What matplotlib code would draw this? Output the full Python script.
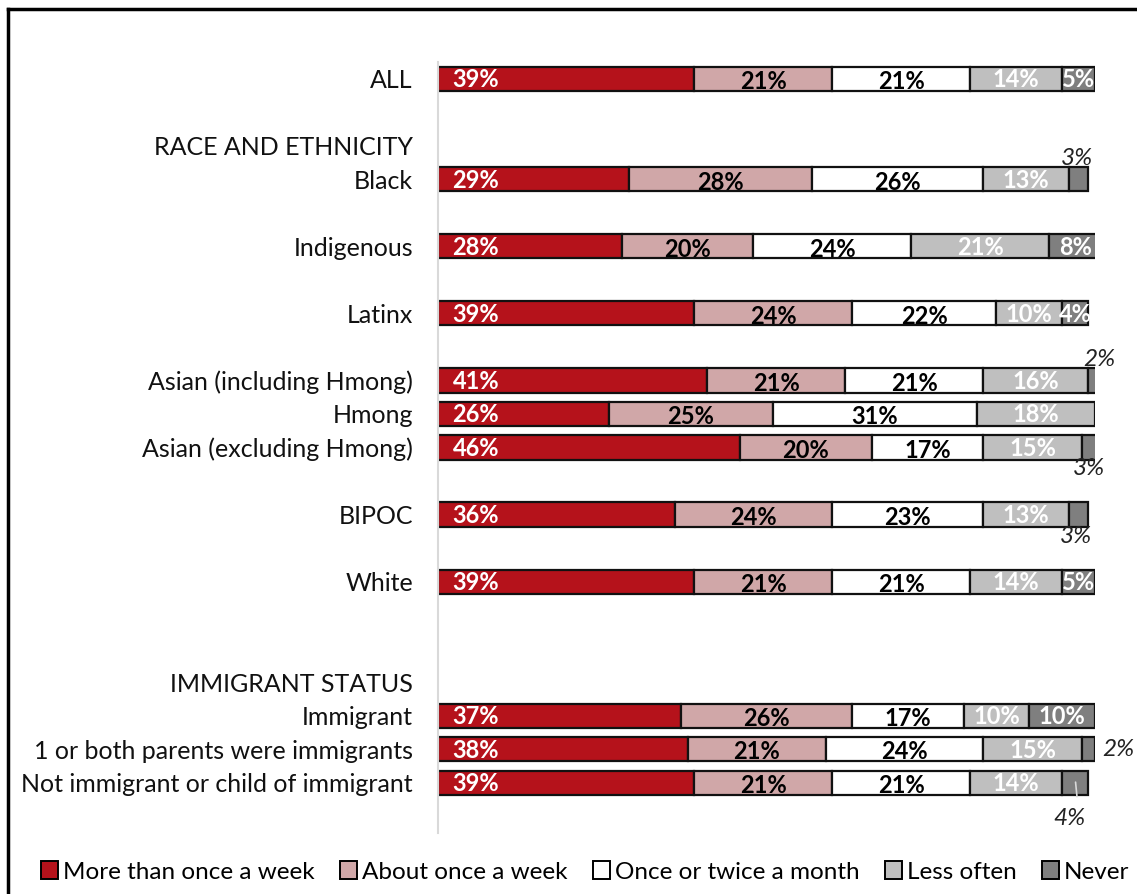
import matplotlib
matplotlib.use('Agg')
import matplotlib.pyplot as plt
from matplotlib.lines import Line2D
from matplotlib.patches import Patch

plt.rcParams['font.family'] = ['Lato', 'DejaVu Sans']

# rows top to bottom, '' = spacer row, headers have no bar
rows = ['ALL', '', 'RACE AND ETHNICITY', 'Black', '', 'Indigenous', '', 'Latinx', '',
        'Asian (including Hmong)', 'Hmong', 'Asian (excluding Hmong)', '', 'BIPOC', '',
        'White', '', '', 'IMMIGRANT STATUS', 'Immigrant', '1 or both parents were immigrants',
        'Not immigrant or child of immigrant', '']

more_than_weekly = {'ALL': 39, 'Black': 29, 'Indigenous': 28, 'Latinx': 39,
                    'Asian (including Hmong)': 41, 'Hmong': 26, 'Asian (excluding Hmong)': 46,
                    'BIPOC': 36, 'White': 39, 'Immigrant': 37,
                    '1 or both parents were immigrants': 38,
                    'Not immigrant or child of immigrant': 39}
about_weekly = {'ALL': 21, 'Black': 28, 'Indigenous': 20, 'Latinx': 24,
                'Asian (including Hmong)': 21, 'Hmong': 25, 'Asian (excluding Hmong)': 20,
                'BIPOC': 24, 'White': 21, 'Immigrant': 26,
                '1 or both parents were immigrants': 21,
                'Not immigrant or child of immigrant': 21}
monthly = {'ALL': 21, 'Black': 26, 'Indigenous': 24, 'Latinx': 22,
           'Asian (including Hmong)': 21, 'Hmong': 31, 'Asian (excluding Hmong)': 17,
           'BIPOC': 23, 'White': 21, 'Immigrant': 17,
           '1 or both parents were immigrants': 24,
           'Not immigrant or child of immigrant': 21}
less_often = {'ALL': 14, 'Black': 13, 'Indigenous': 21, 'Latinx': 10,
              'Asian (including Hmong)': 16, 'Hmong': 18, 'Asian (excluding Hmong)': 15,
              'BIPOC': 13, 'White': 14, 'Immigrant': 10,
              '1 or both parents were immigrants': 15,
              'Not immigrant or child of immigrant': 14}
never = {'ALL': 5, 'Black': 3, 'Indigenous': 8, 'Latinx': 4,
         'Asian (including Hmong)': 2, 'Hmong': 0, 'Asian (excluding Hmong)': 3,
         'BIPOC': 3, 'White': 5, 'Immigrant': 10,
         '1 or both parents were immigrants': 2,
         'Not immigrant or child of immigrant': 4}

series_names = ['More than once a week', 'About once a week', 'Once or twice a month',
                'Less often', 'Never']
series = [more_than_weekly, about_weekly, monthly, less_often, never]
colors = ['#B5121B', '#D0A7A8', '#FFFFFF', '#BFBFBF', '#7F7F7F']
text_colors = ['white', 'black', 'black', 'white', 'white']

# small "Never" values are labelled outside the bar: (dx, dy) offsets in pixels
never_outside = {'Black': (-2, 21), 'Asian (including Hmong)': (4, 21),
                 'Asian (excluding Hmong)': (-3, -21), 'BIPOC': (-3, -22),
                 '1 or both parents were immigrants': (30, 0),
                 'Not immigrant or child of immigrant': (-6, -36)}

fig = plt.figure(figsize=(11.37, 8.94), dpi=100)
ax = fig.add_axes([438 / 1137, 1 - 833 / 894, (1095 - 438) / 1137, (833 - 62) / 894])

ypos = list(range(len(rows)))
ax.set_ylim(len(rows) - 0.5, -0.5)
ax.set_xlim(0, 100)

fs = 17
for i, row in enumerate(rows):
    if row not in more_than_weekly:
        continue
    left = 0
    for k, s in enumerate(series):
        v = s[row]
        if v == 0:
            continue
        ax.barh(i, v, left=left, height=0.72, color=colors[k], edgecolor='#111111',
                linewidth=1.6)
        label = f'{v}%'
        if k == 0:
            ax.text(left + 2.2, i + 0.03, label, ha='left', va='center', color='white',
                    fontsize=fs, fontweight='bold')
        elif k == 4 and row in never_outside:
            dx, dy = never_outside[row]
            cx = left + v / 2
            ax.annotate(label, xy=(cx, i), xytext=(dx, dy), textcoords='offset pixels',
                        ha='center', va='center', fontsize=fs + 0.5, style='italic',
                        color='#222222')
            if row == 'Not immigrant or child of immigrant':
                ax.annotate('', xy=(cx, i - 0.1), xytext=(cx + 0.3, i + 0.5),
                            arrowprops=dict(arrowstyle='-', color='#D9D9D9', lw=1.2))
        else:
            dy = 0.08 if k in (1, 2) else 0.03
            ax.text(left + v / 2, i + dy, label, ha='center', va='center',
                    color=text_colors[k], fontsize=fs, fontweight='bold')
        left += v

ax.set_yticks(ypos)
ax.set_yticklabels(rows, fontsize=18, color='#111111')
ax.tick_params(axis='y', length=0, pad=18)
ax.set_xticks([])
for side in ['top', 'right', 'bottom']:
    ax.spines[side].set_visible(False)
ax.spines['left'].set_color('#D9D9D9')
ax.spines['left'].set_linewidth(1.5)

handles = [Patch(facecolor=c, edgecolor='black', linewidth=1.4) for c in colors]
fig.legend(handles, series_names, loc='center', bbox_to_anchor=(585 / 1137, 1 - 872 / 894),
           ncol=5, frameon=False, fontsize=17.5, handlelength=0.7, handleheight=0.7,
           handletextpad=0.2, columnspacing=1.05)

# outer frame (top and left edges visible)
fig.add_artist(Line2D([8 / 1137, 1.0], [1 - 9 / 894, 1 - 9 / 894], color='black', lw=2.5,
                      transform=fig.transFigure))
fig.add_artist(Line2D([8 / 1137, 8 / 1137], [1 - 9 / 894, 0], color='black', lw=2.5,
                      transform=fig.transFigure))

fig.savefig('out.png', dpi=100)
